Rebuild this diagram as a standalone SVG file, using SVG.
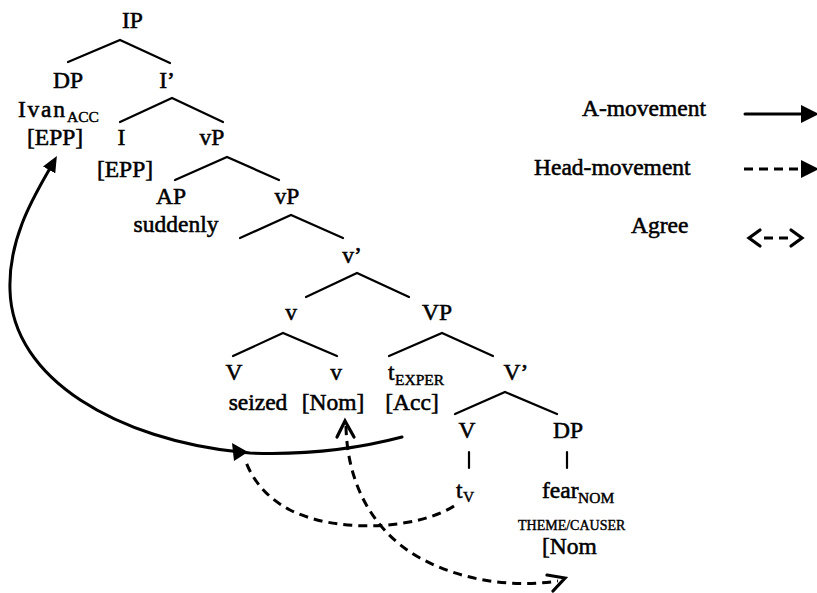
<svg xmlns="http://www.w3.org/2000/svg" width="817" height="593" viewBox="0 0 817 593">
  <style>
    text { font-family: "Liberation Serif", "Times New Roman", serif; font-size: 23.5px; fill: #000; stroke: #000; stroke-width: 0.55px; }
    .c { text-anchor: middle; }
    .sub { font-size: 15.5px; stroke-width: 0.45px; }
    .sc { font-size: 14px; stroke-width: 0.4px; }
    .branch { stroke: #000; stroke-width: 2.2; fill: none; stroke-linecap: round; }
    .amove { stroke: #000; stroke-width: 3; fill: none; stroke-linecap: round; }
    .dash { stroke: #000; stroke-width: 3; fill: none; stroke-dasharray: 9 6; }
    .chev { stroke: #000; stroke-width: 3.2; fill: none; stroke-linejoin: miter; stroke-linecap: round; }
  </style>
  <defs>
    <marker id="head" viewBox="0 0 16 14" refX="8" refY="7" markerWidth="16" markerHeight="14" markerUnits="userSpaceOnUse" orient="auto">
      <path d="M0,0 L16,7 L0,14 z" fill="#000"/>
    </marker>
  </defs>

  <!-- tree nodes -->
  <g id="ip"><text class="c" x="132.5" y="28">IP</text></g>
  <g id="dp-ivan">
    <text class="c" x="68" y="88">DP</text>
    <text x="18" y="117" textLength="47" lengthAdjust="spacing">Ivan</text><text class="sub" x="67" y="122">ACC</text>
    <text x="27" y="145">[EPP]</text>
  </g>
  <g id="i-bar"><text class="c" x="167" y="88">I’</text></g>
  <g id="i-head">
    <text class="c" x="121.5" y="145">I</text>
    <text class="c" x="125" y="177">[EPP]</text>
  </g>
  <g id="vp1"><text class="c" x="212" y="145">vP</text></g>
  <g id="ap">
    <text class="c" x="171" y="204">AP</text>
    <text class="c" x="176" y="232">suddenly</text>
  </g>
  <g id="vp2"><text class="c" x="287" y="204">vP</text></g>
  <g id="v-bar"><text class="c" x="352" y="263">v’</text></g>
  <g id="v-complex"><text class="c" x="291" y="320">v</text></g>
  <g id="vp-big"><text class="c" x="437" y="320">VP</text></g>
  <g id="v-seized">
    <text class="c" x="234" y="380">V</text>
    <text class="c" x="258" y="410">seized</text>
  </g>
  <g id="v-nom">
    <text class="c" x="336" y="380">v</text>
    <text class="c" x="333" y="410">[Nom]</text>
  </g>
  <g id="t-exper">
    <text x="388" y="380">t</text><text class="sub" x="395" y="385">EXPER</text>
    <text class="c" x="412" y="410">[Acc]</text>
  </g>
  <g id="V-bar"><text class="c" x="516" y="380">V’</text></g>
  <g id="V-head">
    <text class="c" x="467" y="438">V</text>
    <text x="456" y="498">t</text><text class="sub" x="463" y="502">V</text>
  </g>
  <g id="dp-fear">
    <text class="c" x="568" y="438">DP</text>
    <text x="542" y="498">fear</text><text class="sub" x="578" y="503">NOM</text>
    <text class="sc" x="518" y="530">THEME/CAUSER</text>
    <text x="542" y="554">[Nom</text>
  </g>

  <!-- legend -->
  <g id="legend-a">
    <text x="582" y="116">A-movement</text>
    <line class="amove" x1="745" y1="114" x2="805" y2="114"/>
    <path d="M801,105 L819,114 L801,123 z" fill="#000"/>
  </g>
  <g id="legend-head">
    <text x="534" y="175">Head-movement</text>
    <line class="dash" x1="744" y1="169" x2="804" y2="169" stroke-dasharray="8 5"/>
    <path d="M801,160 L819,169 L801,178 z" fill="#000"/>
  </g>
  <g id="legend-agree">
    <text x="631" y="233">Agree</text>
    <path class="chev" d="M760,230 L749,238 L760,246" stroke-width="3.6"/>
    <path class="chev" d="M791,230 L802,238 L791,246" stroke-width="3.6"/>
    <line class="dash" x1="764" y1="238" x2="788" y2="238" stroke-dasharray="7 5"/>
  </g>

  <!-- connectors -->
  <g id="connectors">
    <g id="branches">
      <path class="branch" d="M68,62 L120,40 L170,63"/>
      <path class="branch" d="M120,122 L172,98 L223,122"/>
      <path class="branch" d="M175,180 L227,157 L279,180"/>
      <path class="branch" d="M240,238 L291,215 L343,238"/>
      <path class="branch" d="M306,297 L357,273 L409,297"/>
      <path class="branch" d="M233,356 L283,333 L337,356"/>
      <path class="branch" d="M389,356 L442,333 L493,356"/>
      <path class="branch" d="M455,414 L505,392 L557,414"/>
      <path class="branch" d="M469,452 L469,468"/>
      <path class="branch" d="M567,452 L567,468"/>
    </g>
    <!-- A-movement: t_EXPER up to Spec,IP -->
    <path class="amove" d="M402,437 Q330,456 250,453 L240,452 C120,440 12,380 10,290 C8,235 38,190 53,163" marker-end="url(#head)"/>
    <path d="M232,443 L248,452 L234,461 z" fill="#000"/>
    <!-- head movement: t_V to V -->
    <path class="dash" d="M454,506 C420,528 340,535 290,510 C265,497 252,478 246,462"/>
    <!-- Agree: v[Nom] with fear[Nom] -->
    <path class="dash" d="M346,426 C347,480 370,530 420,558 C460,580 510,588 558,581"/>
    <path class="chev" d="M337,437 L345,421 L354,437"/>
    <path class="chev" d="M547,575 L565,578 L553,591"/>
  </g>
</svg>
